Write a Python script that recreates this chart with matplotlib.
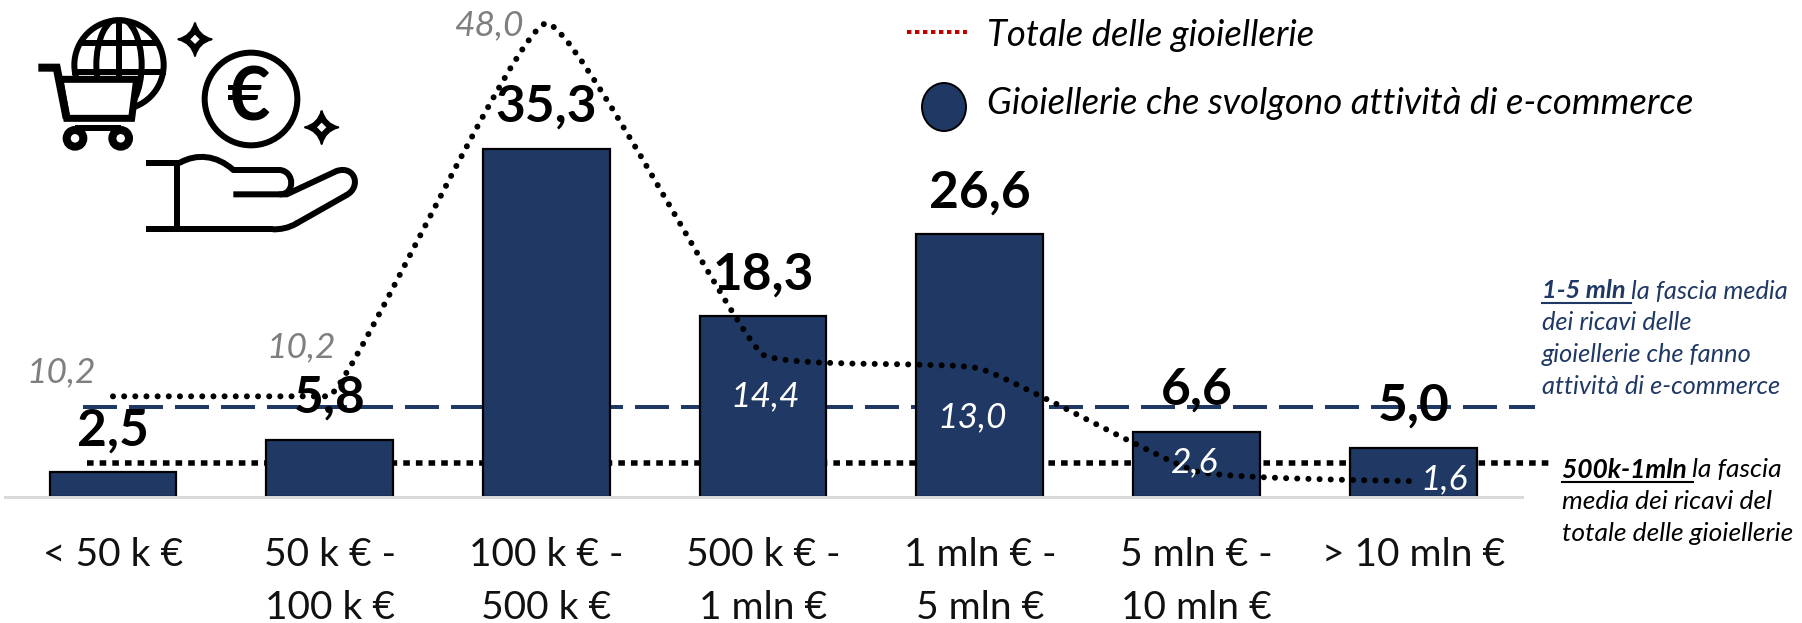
import numpy as np
import matplotlib
matplotlib.use('Agg')
import matplotlib.pyplot as plt
from matplotlib.path import Path
from matplotlib.patches import PathPatch, Circle, Ellipse, Polygon

plt.rcParams['font.family'] = ['Lato', 'DejaVu Sans']

categories = ['< 50 k €', '50 k € -\n100 k €', '100 k € -\n500 k €', '500 k € -\n1 mln €',
              '1 mln € -\n5 mln €', '5 mln € -\n10 mln €', '> 10 mln €']
ecommerce = [2.5, 5.8, 35.3, 18.3, 26.6, 6.6, 5.0]
totale = [10.2, 10.2, 48.0, 14.4, 13.0, 2.6, 1.6]
ecommerce_labels = ['2,5', '5,8', '35,3', '18,3', '26,6', '6,6', '5,0']
totale_labels = ['10,2', '10,2', '48,0', '14,4', '13,0', '2,6', '1,6']
media_ecommerce = 9.1
media_totale = 3.4

NAVY = '#1F3864'
GREY = '#7F7F7F'

W, H = 1802, 623
fig = plt.figure(figsize=(W / 100, H / 100), dpi=100)
px = 0.72  # points in one pixel at dpi 100

# main axes: baseline at y=497, one unit = 9.87 px
ax = fig.add_axes([4.6 / W, (H - 497) / H, 1517 / W, 497 / H])
ax.set_xlim(-0.5, 6.5)
ax.set_ylim(0, 497 / 9.87)
ax.patch.set_visible(False)
for s in ['top', 'left', 'right']:
    ax.spines[s].set_visible(False)
ax.spines['bottom'].set_color('#D9D9D9')
ax.spines['bottom'].set_linewidth(3 * px)
ax.set_yticks([])
x = np.arange(len(categories))
ax.set_xticks(x)
ax.set_xticklabels(categories, fontsize=28, color='#111111', linespacing=1.58)
ax.tick_params(axis='x', length=0, pad=29)

# average lines behind the bars
ax.plot([-0.138, 6.56], [media_ecommerce] * 2, color=NAVY, lw=4 * px, clip_on=False, zorder=1,
        linestyle=(0, (8.5, 3)), dash_capstyle='butt')
ax.plot([-0.12, 6.63], [media_totale] * 2, color='black', lw=5.5 * px, clip_on=False, zorder=1,
        linestyle=(0, (1.2, 1.1)), dash_capstyle='butt')

ax.bar(x, ecommerce, width=0.585, color=NAVY, edgecolor='black', linewidth=1.6, zorder=2)

for i, v in enumerate(ecommerce):
    ax.annotate(ecommerce_labels[i], (x[i], v), xytext=(0, 30), textcoords='offset points',
                ha='center', va='center', fontsize=37, fontweight='bold', color='black', zorder=4)

# smoothed total line, bezier through the data points, handles kept inside each segment
t = 0.07
pts = np.column_stack([x, totale])
verts = [pts[0]]
codes = [Path.MOVETO]
for i in range(len(pts) - 1):
    p0 = pts[max(i - 1, 0)]
    p1 = pts[i]
    p2 = pts[i + 1]
    p3 = pts[min(i + 2, len(pts) - 1)]
    c1 = p1 + (p2 - p0) * t
    c2 = p2 - (p3 - p1) * t
    lo, hi = min(p1[1], p2[1]), max(p1[1], p2[1])
    c1[1] = np.clip(c1[1], lo, hi)
    c2[1] = np.clip(c2[1], lo, hi)
    verts += [c1, c2, p2]
    codes += [Path.CURVE4] * 3
ax.add_patch(PathPatch(Path(verts, codes), fill=False, edgecolor='black', lw=6 * px, clip_on=False,
                       linestyle=(0, (0.01, 1.85)), capstyle='round', zorder=5))

# offsets of the total labels from their points, pixels, down is positive
off = [(-52, -24), (-29, -49), (-58, 2), (2, 41), (-8, 49), (-2, -9), (31, -2)]
for i, v in enumerate(totale):
    col = 'white' if i >= 3 else GREY
    ax.annotate(totale_labels[i], (x[i], v), xytext=(off[i][0] * px, off[i][1] * -px),
                textcoords='offset points', ha='center', va='center', fontsize=25.5,
                style='italic', color=col, zorder=6)

# overlay in pixel coordinates for legend, notes and icon
ov = fig.add_axes([0, 0, 1, 1])
ov.set_xlim(0, W)
ov.set_ylim(H, 0)
ov.axis('off')

# legend
ov.plot([907, 967], [32, 32], color='#C00000', lw=4 * px, linestyle=(0, (1.1, 0.9)), dash_capstyle='butt')
ov.text(987, 35, 'Totale delle gioiellerie', fontsize=26.3, style='italic', color='black', va='center')
ov.add_patch(Ellipse((944, 107), 44, 48, facecolor=NAVY, edgecolor='black', lw=1.4))
ov.text(987, 103, 'Gioiellerie che svolgono attività di e-commerce', fontsize=26.3, style='italic',
        color='black', va='center')


# notes with an underlined bold start
def note(x0, y0, bold, rest, lines, col, fs):
    r = fig.canvas.get_renderer()
    a = ov.text(x0, y0, bold, fontsize=fs, style='italic', fontweight='bold', color=col, va='center')
    bb = a.get_window_extent(r)
    ov.text(x0 + bb.width, y0, rest, fontsize=fs, style='italic', color=col, va='center')
    ov.plot([x0, x0 + bb.width], [y0 + 12, y0 + 12], color=col, lw=1.5)
    for k, ln in enumerate(lines):
        ov.text(x0, y0 + (k + 1) * 31.7, ln, fontsize=fs, style='italic', color=col, va='center')


note(1542, 291, '1-5 mln ', 'la fascia media',
     ['dei ricavi delle', 'gioiellerie che fanno', 'attività di e-commerce'], NAVY, 18.3)
note(1562, 470, '500k-1mln ', 'la fascia', ['media dei ricavi del', 'totale delle gioiellerie'], 'black', 19)


# icon, coordinates taken from a 3x crop
def z(*p):
    return np.array(p, dtype=float) / 3


def stroke(points, lw=6, curve=False):
    if curve:
        codes = [Path.MOVETO] + [Path.CURVE4] * (len(points) - 1)
        ov.add_patch(PathPatch(Path([z(*p) for p in points], codes), fill=False, edgecolor='black',
                               lw=lw * px, capstyle='round', zorder=8))
    else:
        a = np.array(points, dtype=float) / 3
        ov.plot(a[:, 0], a[:, 1], color='black', lw=lw * px, solid_capstyle='butt', solid_joinstyle='miter', zorder=8)


# globe
clip = Circle(z(357, 195), 143 / 3, transform=ov.transData)
ov.add_patch(Circle(z(357, 195), 134 / 3, fill=False, edgecolor='black', lw=6 * px, zorder=3))
e = Ellipse(z(357, 195), 2 * 68 / 3, 280 / 3, fill=False, edgecolor='black', lw=6 * px, zorder=3)
ov.add_patch(e)
e.set_clip_path(clip)
for yy, half in [(130, 118), (215, 140)]:
    stroke([(357 - half, yy), (357 + half, yy)], 6)
stroke([(357, 60), (357, 240)], 6)
# cart
ov.add_patch(Polygon([z(180, 238), z(410, 238), z(395, 355), z(200, 355)], closed=True, facecolor='white',
                     edgecolor='black', lw=7 * px, joinstyle='miter', zorder=8))
stroke([(115, 203), (170, 203), (200, 355)], 8)
stroke([(225, 385), (362, 385)], 6)
for cx in [225, 362]:
    ov.add_patch(Circle(z(cx, 415), 25 / 3, facecolor='white', edgecolor='black', lw=8 * px, zorder=8))
# coin
ov.add_patch(Circle(z(753, 297), 139 / 3, facecolor='white', edgecolor='black', lw=6 * px, zorder=8))
ov.text(*z(745, 297), '€', fontsize=54, fontweight='bold', color='black', ha='center', va='center', zorder=9)
# sparkles
for cx, cy in [(585, 118), (965, 382)]:
    s = 50
    c = 10
    star = [(cx, cy - s), (cx + c, cy - c), (cx + s, cy), (cx + c, cy + c), (cx, cy + s), (cx - c, cy + c),
            (cx - s, cy), (cx - c, cy - c), (cx, cy - s)]
    ov.add_patch(PathPatch(Path([z(*p) for p in star], [Path.MOVETO] + [Path.CURVE3] * 8), facecolor='black',
                           edgecolor='black', lw=2 * px, joinstyle='round', zorder=8))
    d = 14
    ov.add_patch(Polygon([z(cx, cy - d), z(cx + d, cy), z(cx, cy + d), z(cx - d, cy)], closed=True,
                         facecolor='white', edgecolor='none', zorder=9))
# hand
stroke([(437, 488), (540, 488)])
stroke([(532, 488), (532, 688)])
stroke([(437, 688), (820, 688)])
stroke([(540, 488), (590, 460), (650, 465), (700, 510)], curve=True)
stroke([(700, 510), (840, 510)])
stroke([(840, 510), (885, 515), (885, 583), (840, 583)], curve=True)
stroke([(700, 583), (860, 583), (1010, 513)])
stroke([(1010, 513), (1065, 495), (1085, 560), (1040, 585)], curve=True)
stroke([(1040, 585), (890, 670)])
stroke([(890, 670), (865, 685), (840, 688), (820, 688)], curve=True)

fig.savefig('out.png', dpi=100)
